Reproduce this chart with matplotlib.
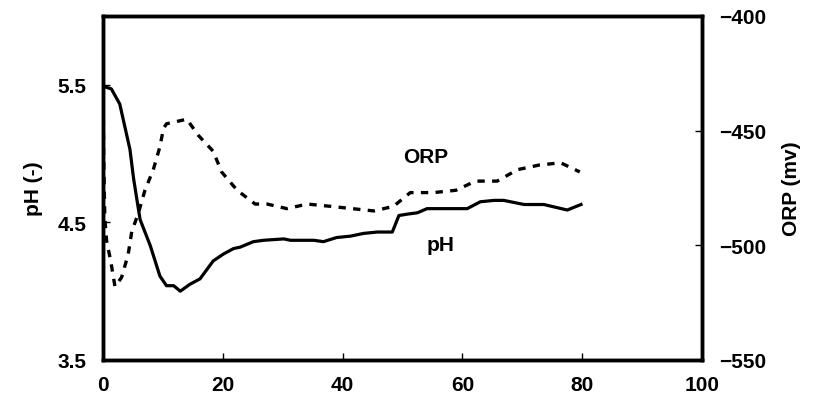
import numpy as np
import matplotlib.pyplot as plt

plt.rcParams['font.family'] = ['Liberation Sans', 'DejaVu Sans']
plt.rcParams['font.weight'] = 'bold'

# pH curve
ph_time = [0, 1.4, 2.8, 4.5, 5.1, 5.9, 6.2, 7.9, 9.5, 10.6, 11.8, 12.9, 14.5, 16.2,
           18.4, 20.1, 21.8, 22.9, 25.1, 26.8, 30.2, 31.3, 35.2, 36.8, 39.0, 41.3,
           43.5, 45.8, 48.3, 49.4, 50.8, 52.5, 54.1, 60.8, 63.0, 65.3, 66.9, 70.3,
           73.6, 77.5, 79.8]
ph = [5.49, 5.47, 5.36, 5.03, 4.82, 4.60, 4.52, 4.33, 4.11, 4.04, 4.04, 4.00, 4.05, 4.09,
      4.22, 4.27, 4.31, 4.32, 4.36, 4.37, 4.38, 4.37, 4.37, 4.36, 4.39, 4.40,
      4.42, 4.43, 4.43, 4.55, 4.56, 4.57, 4.60, 4.60, 4.65, 4.66, 4.66, 4.63,
      4.63, 4.59, 4.63]

# ORP curve
orp_time = [0, 0.1, 0.3, 0.6, 1.3, 2.0, 3.1, 4.2, 4.8, 5.9, 7.0, 8.4, 9.5, 10.1,
            10.6, 14.0, 15.9, 18.4, 19.8, 22.4, 25.4, 27.4, 30.7, 34.1, 38.0, 41.6,
            45.2, 48.5, 51.3, 55.2, 58.9, 62.2, 65.8, 69.2, 72.8, 76.4, 79.6]
orp = [-419, -460, -488, -498, -507, -518, -514, -504, -494, -486, -476, -467, -457, -449,
       -447, -445, -452, -459, -468, -476, -482, -482, -484, -482, -483, -484,
       -485, -483, -477, -477, -476, -472, -472, -467, -465, -464, -468]

fig = plt.figure(figsize=(8.15, 4.1), dpi=100)
ax = fig.add_axes([103 / 815, 49 / 410, 599 / 815, 344 / 410])
ax2 = ax.twinx()

ax.plot(ph_time, ph, color='black', lw=2.3)
ax2.plot(orp_time, orp, color='black', lw=2.4, ls=(0, (2.2, 2.2)))

ax.set_xlim(0, 100)
ax.set_ylim(3.5, 6.0)
ax.set_xticks(np.arange(0, 101, 20))
ax.set_yticks([3.5, 4.5, 5.5])
ax2.set_ylim(-550, -400)
ax2.set_yticks([-550, -500, -450, -400])

for a in (ax, ax2):
    a.tick_params(direction='in', length=5, width=1, labelsize=15, pad=12)
    for s in a.spines.values():
        s.set_linewidth(2.5)
ax.tick_params(axis='x', pad=11)

ax.set_ylabel('pH (-)', fontsize=15, fontweight='bold', labelpad=10)
ax2.set_ylabel('ORP (mv)', fontsize=15, fontweight='bold', labelpad=12)

ax.text(53.8, 4.98, 'ORP', fontsize=15, fontweight='bold', ha='center', va='center')
ax.text(56.4, 4.34, 'pH', fontsize=15, fontweight='bold', ha='center', va='center')

fig.savefig('out.png', dpi=100)
